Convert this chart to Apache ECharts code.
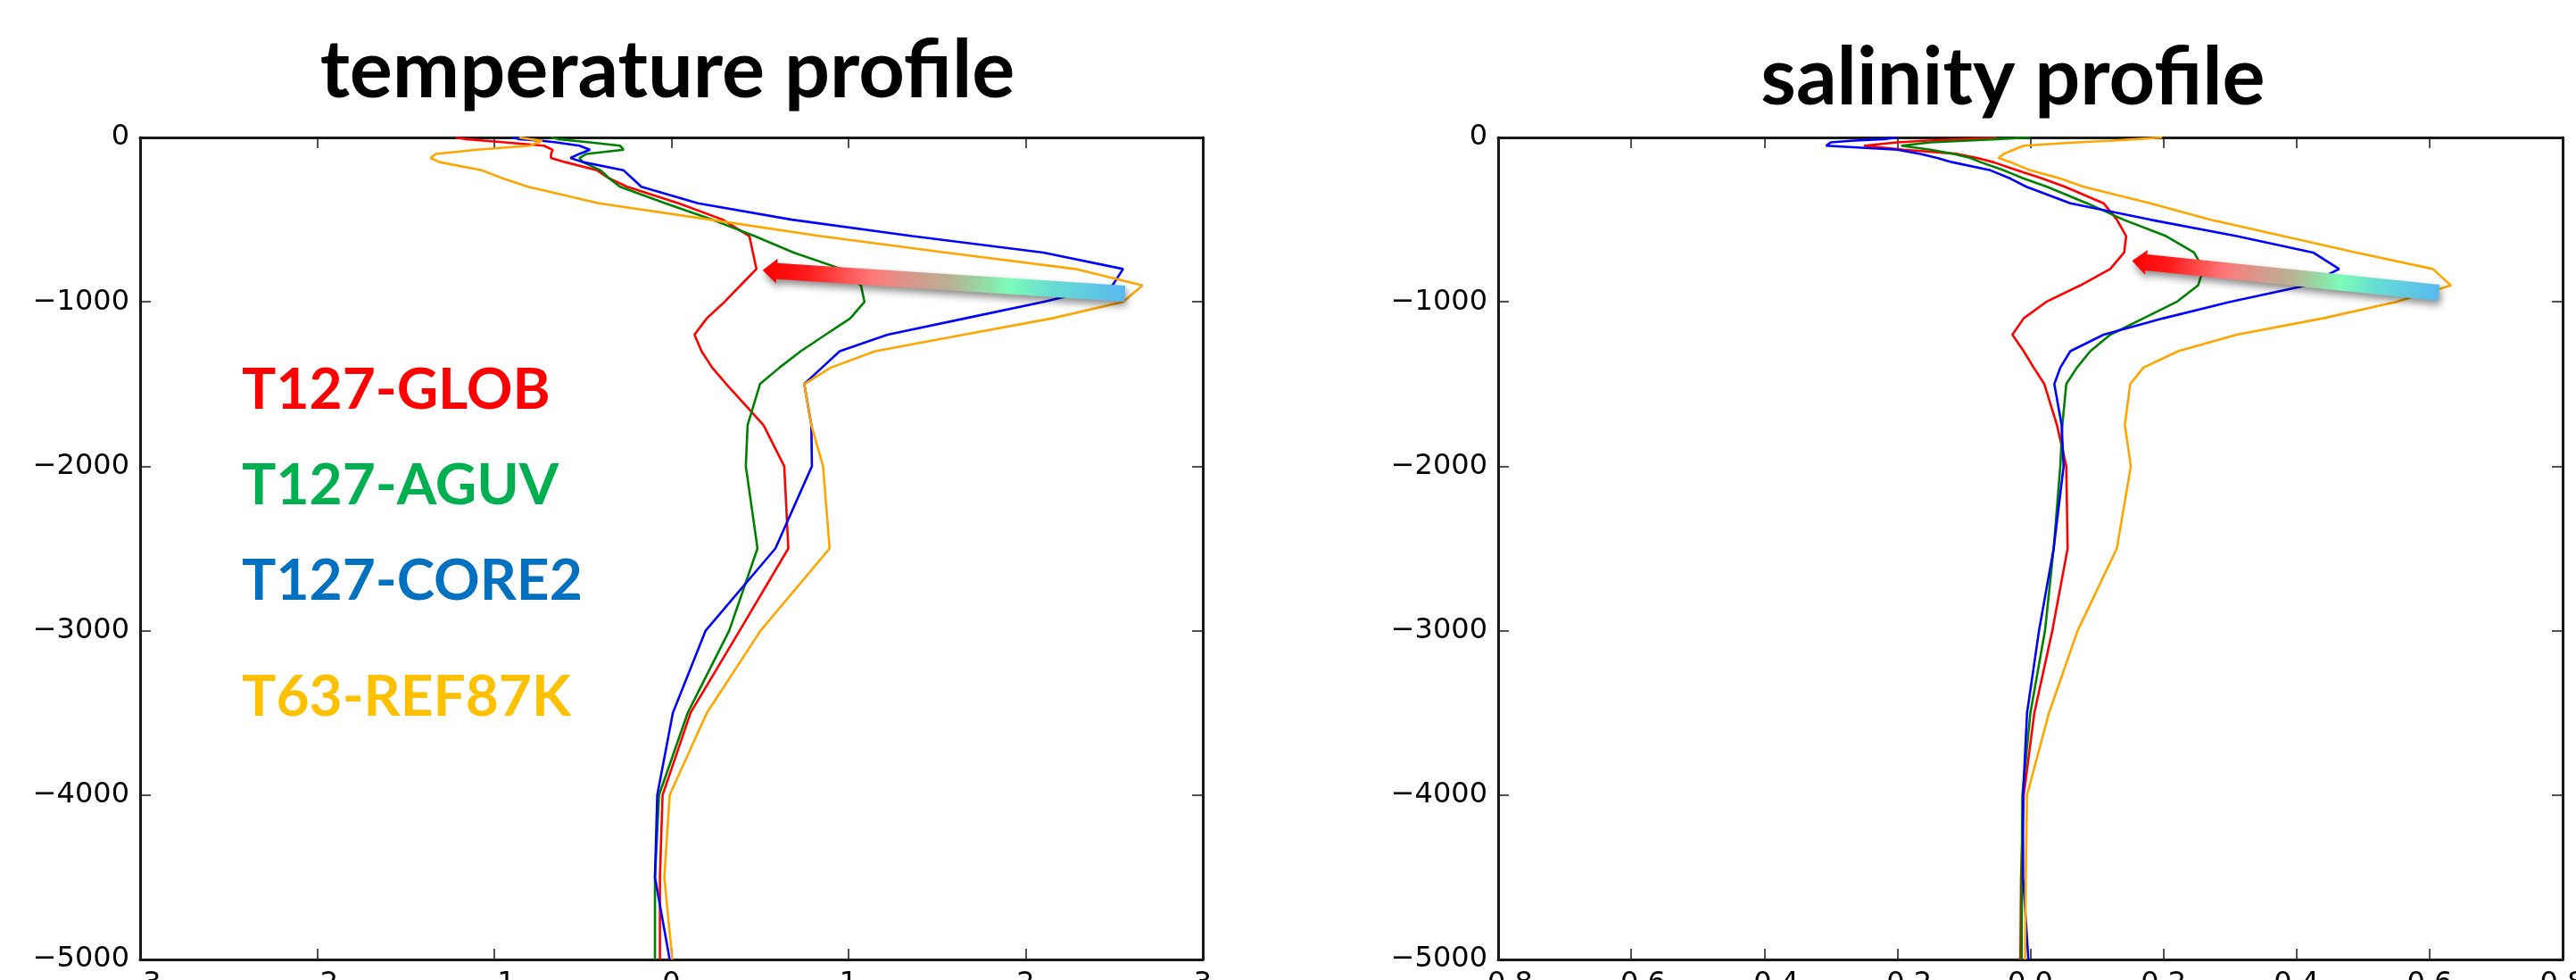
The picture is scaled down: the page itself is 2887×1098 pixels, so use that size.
<!DOCTYPE html>
<html><head><meta charset="utf-8">
<script src="https://cdn.jsdelivr.net/npm/echarts@6/dist/echarts.min.js"></script>
<style>html,body{margin:0;padding:0;background:#fff;overflow:hidden}#c{width:2887px;height:1098px}</style>
</head><body><div id="c"></div>
<script>
// ---- data ----
const depthLevels = [0,10,20,30,50,75,100,125,150,200,250,300,400,500,600,700,800,900,1000,1100,1200,1300,1400,1500,1750,2000,2500,3000,3500,4000,4500,5000];
const seriesNames = ['T127-GLOB','T127-AGUV','T127-CORE2','T63-REF87K'];
const lineColors = ['#ff0000','#008000','#0000ff','#ffa500'];
const labelColors = ['#ff0000','#00b050','#0070c0','#ffc000'];
const panelTitles = ['temperature profile','salinity profile'];

const tempGLOB  = [-1.22,-1.16,-1.05,-0.94,-0.72,-0.67,-0.68,-0.68,-0.60,-0.42,-0.35,-0.25,0.04,0.29,0.44,0.46,0.48,0.39,0.30,0.20,0.13,0.17,0.23,0.31,0.52,0.637,0.66,0.385,0.108,-0.05,-0.065,-0.065];
const tempAGUV  = [-0.68,-0.64,-0.55,-0.46,-0.29,-0.27,-0.48,-0.52,-0.50,-0.40,-0.35,-0.29,-0.035,0.23,0.47,0.69,0.96,1.07,1.09,1.01,0.87,0.73,0.61,0.50,0.43,0.42,0.486,0.326,0.092,-0.07,-0.093,-0.093];
const tempCORE2 = [-0.90,-0.86,-0.73,-0.65,-0.52,-0.46,-0.52,-0.57,-0.50,-0.27,-0.22,-0.17,0.15,0.68,1.36,2.10,2.55,2.49,2.10,1.66,1.22,0.95,0.85,0.75,0.79,0.793,0.587,0.193,0.008,-0.08,-0.093,-0.01];
const tempREF87K= [-0.86,-0.80,-0.73,-0.72,-0.80,-1.10,-1.33,-1.36,-1.31,-1.07,-0.95,-0.81,-0.41,0.22,0.84,1.55,2.28,2.66,2.55,2.15,1.65,1.15,0.90,0.75,0.79,0.856,0.893,0.503,0.20,-0.01,-0.04,0.005];

const salGLOB   = [-0.05,-0.10,-0.16,-0.20,-0.25,-0.19,-0.11,-0.08,-0.056,-0.02,0.018,0.052,0.11,0.13,0.144,0.141,0.12,0.075,0.024,-0.01,-0.027,-0.01,0.005,0.021,0.04,0.054,0.056,0.033,0.006,-0.01,-0.014,-0.015];
const salAGUV   = [0.0,-0.05,-0.10,-0.15,-0.194,-0.15,-0.115,-0.09,-0.075,-0.04,-0.01,0.025,0.085,0.14,0.204,0.246,0.26,0.252,0.22,0.17,0.12,0.09,0.07,0.054,0.048,0.045,0.035,0.022,0.0,-0.012,-0.013,-0.013];
const salCORE2  = [-0.20,-0.22,-0.27,-0.30,-0.307,-0.20,-0.165,-0.14,-0.118,-0.06,-0.03,-0.006,0.06,0.18,0.31,0.425,0.464,0.415,0.30,0.20,0.11,0.06,0.045,0.036,0.047,0.05,0.035,0.013,-0.005,-0.011,-0.011,-0.003];
const salREF87K = [0.198,0.16,0.12,0.07,-0.01,-0.025,-0.04,-0.048,-0.03,0.0,0.045,0.08,0.18,0.27,0.38,0.49,0.605,0.632,0.55,0.44,0.31,0.222,0.17,0.15,0.142,0.151,0.130,0.071,0.028,-0.005,-0.007,-0.008];

// arrow annotations: [tipValue, tipDepth, tailValue, tailDepth]
const tempArrow = [0.515, 807, 2.56, 950];
const salArrow  = [0.153, 751, 0.614, 945];

const tempRange = [-3, 3, 1];
const salRange  = [-0.8, 0.8, 0.2];
const depthRange = [-5000, 0, 1000];

// ---- chart ----
const chart = echarts.init(document.getElementById('c'), null, {renderer:'canvas'});
const tempSeries = [tempGLOB, tempAGUV, tempCORE2, tempREF87K];
const salSeries  = [salGLOB, salAGUV, salCORE2, salREF87K];
const minus = s => String(s).replace('-', '\u2212');
const axisColor = '#1a1a1a';

function xAx(grid, r, pos, dec){
  return {
    gridIndex: grid, type:'value', min:r[0], max:r[1], interval:r[2], position:pos,
    axisLine:{show:true, onZero:false, lineStyle:{color:axisColor, width:3}},
    axisTick:{show:true, inside:true, length:12, lineStyle:{color:axisColor, width:1.5}},
    axisLabel:{show: pos==='bottom', margin:12, fontSize:32, fontFamily:'DejaVu Sans', color:'#000',
      formatter: v => minus(dec ? (+v).toFixed(dec) : Math.round(v))},
    splitLine:{show:false}
  };
}
function yAx(grid, pos){
  return {
    gridIndex: grid, type:'value', min:depthRange[0], max:depthRange[1], interval:depthRange[2], position:pos,
    axisLine:{show:true, onZero:false, lineStyle:{color:axisColor, width:3}},
    axisTick:{show:true, inside:true, length:12, lineStyle:{color:axisColor, width:1.5}},
    axisLabel:{show: pos==='left', margin:12, fontSize:32, fontFamily:'DejaVu Sans', color:'#000',
      formatter: v => minus(Math.round(v))},
    splitLine:{show:false}
  };
}

const series = [];
for (let i = 0; i < 4; i++) {
  series.push({
    name: seriesNames[i], type:'line', xAxisIndex:0, yAxisIndex:0,
    data: depthLevels.map((d, k) => [tempSeries[i][k], -d]),
    symbol:'none', lineStyle:{color:lineColors[i], width:2.6}, itemStyle:{color:lineColors[i]}, z: 2
  });
}
for (let i = 0; i < 4; i++) {
  series.push({
    name: seriesNames[i], type:'line', xAxisIndex:2, yAxisIndex:2,
    data: depthLevels.map((d, k) => [salSeries[i][k], -d]),
    symbol:'none', lineStyle:{color:lineColors[i], width:2.6}, itemStyle:{color:lineColors[i]}, z: 2
  });
}

chart.setOption({
  animation:false,
  backgroundColor:'#ffffff',
  grid:[
    {left:157, top:154, width:1191, height:921, containLabel:false, outerBoundsMode:'none'},
    {left:1679, top:154, width:1193, height:921, containLabel:false, outerBoundsMode:'none'}
  ],
  xAxis:[ xAx(0,tempRange,'bottom',0), xAx(0,tempRange,'top',0), xAx(1,salRange,'bottom',1), xAx(1,salRange,'top',1) ],
  yAxis:[ yAx(0,'left'), yAx(0,'right'), yAx(1,'left'), yAx(1,'right') ],
  series: series
});

function arrowGraphic(arrow, xi){
  const T = chart.convertToPixel({xAxisIndex:xi, yAxisIndex:xi}, [arrow[0], -arrow[1]]);
  const E = chart.convertToPixel({xAxisIndex:xi, yAxisIndex:xi}, [arrow[2], -arrow[3]]);
  const dx = T[0]-E[0], dy = T[1]-E[1], L = Math.hypot(dx, dy);
  const ux = dx/L, uy = dy/L, nx = -uy, ny = ux;
  const w = 9, hw = 14, hl = 16;
  const N = [T[0]-ux*hl, T[1]-uy*hl];
  const pts = [
    [E[0]+nx*w, E[1]+ny*w], [N[0]+nx*w, N[1]+ny*w], [N[0]+nx*hw, N[1]+ny*hw], [T[0], T[1]],
    [N[0]-nx*hw, N[1]-ny*hw], [N[0]-nx*w, N[1]-ny*w], [E[0]-nx*w, E[1]-ny*w]
  ];
  return {
    type:'polygon', shape:{points:pts}, z:10,
    style:{
      fill:{type:'linear', x:E[0], y:E[1], x2:T[0], y2:T[1], global:true, colorStops:[
        {offset:0, color:'#58b8f0'}, {offset:0.2, color:'#66dcd4'}, {offset:0.32, color:'#7cfcb8'},
        {offset:0.4, color:'#98d6a2'}, {offset:0.48, color:'#b8b294'}, {offset:0.58, color:'#d49a8c'},
        {offset:0.7, color:'#ff7878'}, {offset:0.88, color:'#ff1a1a'}, {offset:1, color:'#ff0000'}]},
      shadowBlur:8, shadowColor:'rgba(0,0,0,0.45)', shadowOffsetX:2, shadowOffsetY:5
    }
  };
}

const legendY = [437, 544, 651, 781];
const graphics = [
  {type:'text', x:748, y:80, z:20, style:{text:panelTitles[0], font:'bold 90px Lato', fill:'#000', align:'center', verticalAlign:'middle'}},
  {type:'text', x:2256, y:88, z:20, style:{text:panelTitles[1], font:'bold 90px Lato', fill:'#000', align:'center', verticalAlign:'middle'}},
  arrowGraphic(tempArrow, 0),
  arrowGraphic(salArrow, 2)
];
seriesNames.forEach((n, i) => {
  graphics.push({type:'text', x:271, y:legendY[i], z:20,
    style:{text:n, font:'bold 64px Lato', fill:labelColors[i], align:'left', verticalAlign:'middle'}});
});
chart.setOption({graphic: graphics});
</script>
</body></html>
